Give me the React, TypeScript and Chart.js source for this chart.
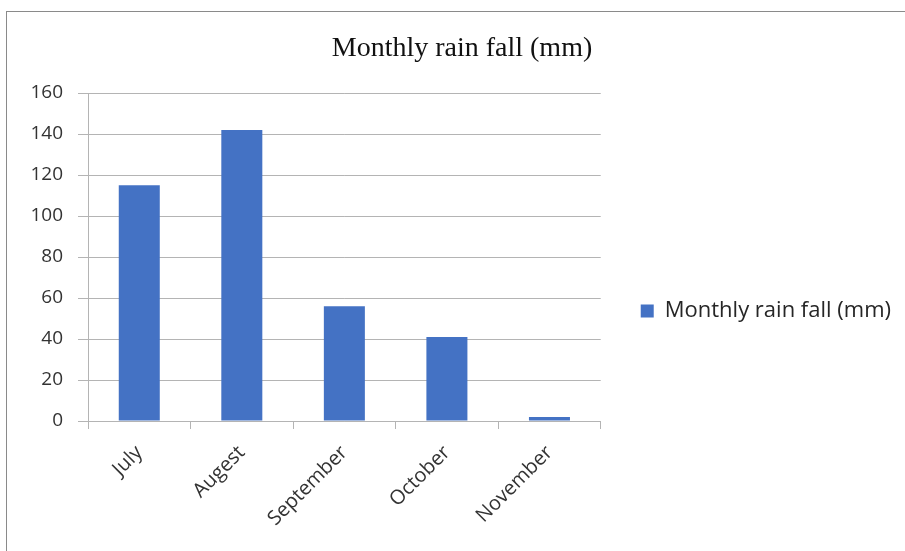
import { useEffect, useRef } from "react";
import { Chart, registerables } from "chart.js";

Chart.register(...registerables);

const categories = ["July", "Augest", "September", "October", "November"];
const rainfall = [115, 142, 56, 41, 2];
const seriesLabel = "Monthly rain fall (mm)";
const chartTitle = "Monthly rain fall (mm)";
const yMin = 0;
const yMax = 160;
const yStep = 20;

const SANS = "'Open Sans', 'Noto Sans', sans-serif";
const GRID = "#b4b4b4";
const TEXT = "#333333";

const PAD_LEFT = 23;
const PAD_RIGHT = 4;

export default function App() {
  const ref = useRef<HTMLCanvasElement>(null);

  useEffect(() => {
    const canvas = ref.current;
    if (!canvas) return;
    const chart = new Chart(canvas, {
      type: "bar",
      data: {
        labels: categories,
        datasets: [
          {
            label: seriesLabel,
            data: rainfall,
            backgroundColor: "#4472C4",
            barPercentage: 0.4,
            categoryPercentage: 1,
          },
        ],
      },
      options: {
        animation: false,
        responsive: false,
        devicePixelRatio: 1,
        layout: { padding: { left: PAD_LEFT, right: PAD_RIGHT, top: 0, bottom: 0 } },
        plugins: {
          title: {
            display: true,
            text: chartTitle,
            color: "#111111",
            font: { family: "'Liberation Serif', serif", size: 28, weight: "normal" },
            padding: { top: 32, bottom: 27.4 },
          },
          legend: {
            position: "right",
            align: "center",
            maxWidth: 400,
            labels: {
              boxWidth: 13,
              boxHeight: 13,
              padding: 40,
              color: "#262626",
              font: { family: SANS, size: 22 },
            },
          },
          tooltip: { enabled: false },
        },
        scales: {
          x: {
            grid: {
              display: true,
              drawOnChartArea: false,
              drawTicks: true,
              tickLength: 8,
              color: GRID,
              offset: true,
            },
            border: { display: true, color: GRID },
            ticks: {
              minRotation: 45,
              maxRotation: 45,
              padding: 12,
              color: TEXT,
              font: { family: SANS, size: 20 },
            },
            afterFit: (s: any) => {
              s.height = 201;
              s.paddingLeft = 0;
              s.paddingRight = 0;
            },
          },
          y: {
            min: yMin,
            max: yMax,
            grid: { color: GRID, tickLength: 10, lineWidth: 1 },
            border: { display: true, color: GRID },
            ticks: {
              stepSize: yStep,
              padding: 15,
              color: TEXT,
              font: { family: SANS, size: 19 },
            },
            afterFit: (s: any) => {
              s.width = 88 - PAD_LEFT;
            },
          },
        },
      },
    } as any);
    return () => chart.destroy();
  }, []);

  return (
    <div
      style={{
        position: "fixed",
        left: 0,
        top: 0,
        width: 905,
        height: 551,
        overflow: "hidden",
        background: "#fff",
      }}
    >
      <div
        style={{
          position: "absolute",
          left: 6,
          top: 11,
          width: 1000,
          height: 1000,
          border: "1px solid #8a8a8a",
        }}
      />
      <canvas
        ref={ref}
        width={905}
        height={622}
        style={{ position: "absolute", left: 0, top: 0, width: 905, height: 622 }}
      />
    </div>
  );
}
